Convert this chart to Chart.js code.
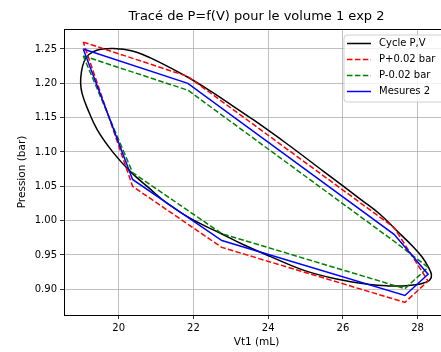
<!DOCTYPE html>
<html>
<head>
<meta charset="utf-8">
<script src="https://cdn.jsdelivr.net/npm/chart.js@4/dist/chart.umd.min.js"></script>
<style>
html,body{margin:0;padding:0;background:#fff;overflow:hidden;width:441px;height:352px;}
canvas{display:block;}
</style>
</head>
<body>
<canvas id="c" width="470" height="352"></canvas>
<script>
const titleText = "Tracé de P=f(V) pour le volume 1 exp 2";
const xLabel = "Vt1 (mL)";
const yLabel = "Pression (bar)";
const xTicks = [20, 22, 24, 26, 28];
const yTicks = [0.90, 0.95, 1.00, 1.05, 1.10, 1.15, 1.20, 1.25];
const seriesNames = ["Cycle P,V", "P+0.02 bar", "P-0.02 bar", "Mesures 2"];

const cycleV = [19.95, 20.2, 20.5, 20.85, 21.4, 21.91, 22.5, 23.0, 23.6, 24.5, 25.5, 26.5, 27.0, 27.43, 27.88, 28.12, 28.28, 28.37, 28.33, 28.2, 28.0, 27.61, 27.2, 26.72, 25.83, 24.94, 24.05, 23.3, 22.71, 21.99, 21.3, 20.8, 20.32, 19.87, 19.43, 19.15, 19.02, 18.98, 19.0, 19.07, 19.2, 19.43, 19.7, 19.95];
const cycleP = [1.2505, 1.249, 1.245, 1.237, 1.222, 1.207, 1.187, 1.169, 1.147, 1.112, 1.071, 1.030, 1.009, 0.986, 0.962, 0.947, 0.933, 0.921, 0.914, 0.910, 0.907, 0.905, 0.905, 0.907, 0.915, 0.928, 0.948, 0.966, 0.982, 1.001, 1.025, 1.048, 1.071, 1.098, 1.132, 1.165, 1.185, 1.200, 1.216, 1.2315, 1.242, 1.2485, 1.2505, 1.2505];

const mesV = [19.05, 21.85, 27.37, 28.28, 27.66, 22.76, 20.37, 19.05];
const mesP = [1.250, 1.200, 0.980, 0.922, 0.891, 0.971, 1.060, 1.250];
const plusP = [1.260, 1.210, 0.990, 0.912, 0.881, 0.961, 1.050, 1.260];
const minusP = [1.240, 1.190, 0.970, 0.932, 0.901, 0.981, 1.070, 1.240];

const xMin = 18.535, xMax = 28.84;
const yMin = 0.8626, yMax = 1.2791;

const pts = (xs, ys) => xs.map((x, i) => ({x: x, y: ys[i]}));
const FONT = "'DejaVu Sans', sans-serif";

const colors = ['#000000', '#ff0000', '#008000', '#0000ff'];
const dashes = [[], [5.5, 2.4], [5.5, 2.4], []];

const extras = {
  id: 'extras',
  afterDraw(chart) {
    const {ctx, chartArea: a} = chart;
    ctx.save();
    ctx.strokeStyle = '#000';
    ctx.lineWidth = 1;
    ctx.strokeRect(Math.round(a.left) + 0.5, Math.round(a.top) + 0.5, Math.round(a.right - a.left), Math.round(a.bottom - a.top));
    ctx.fillStyle = '#000';
    ctx.font = '13px ' + FONT;
    ctx.textAlign = 'center';
    ctx.textBaseline = 'middle';
    ctx.fillText(titleText, (a.left + a.right) / 2, 17);
    const bx = 344, by = 35, bw = 102, bh = 67, r = 3;
    ctx.beginPath();
    ctx.moveTo(bx + r, by);
    ctx.lineTo(bx + bw - r, by);
    ctx.quadraticCurveTo(bx + bw, by, bx + bw, by + r);
    ctx.lineTo(bx + bw, by + bh - r);
    ctx.quadraticCurveTo(bx + bw, by + bh, bx + bw - r, by + bh);
    ctx.lineTo(bx + r, by + bh);
    ctx.quadraticCurveTo(bx, by + bh, bx, by + bh - r);
    ctx.lineTo(bx, by + r);
    ctx.quadraticCurveTo(bx, by, bx + r, by);
    ctx.closePath();
    ctx.fillStyle = 'rgba(255,255,255,0.8)';
    ctx.fill();
    ctx.strokeStyle = '#d0d0d0';
    ctx.lineWidth = 1;
    ctx.stroke();
    ctx.font = '10px ' + FONT;
    ctx.textAlign = 'left';
    seriesNames.forEach((n, i) => {
      const yy = 43.5 + i * 16;
      ctx.beginPath();
      ctx.setLineDash(dashes[i]);
      ctx.strokeStyle = colors[i];
      ctx.lineWidth = 1.5;
      ctx.moveTo(347, yy);
      ctx.lineTo(371, yy);
      ctx.stroke();
      ctx.setLineDash([]);
      ctx.fillStyle = '#000';
      ctx.fillText(n, 379, yy);
    });
    ctx.restore();
  }
};

const ds = (label, data, i, order, tension) => ({
  label: label, data: data, showLine: true, borderColor: colors[i], backgroundColor: colors[i],
  borderWidth: 1.5, borderDash: dashes[i], pointRadius: 0, tension: tension, order: order, fill: false
});

new Chart(document.getElementById('c'), {
  type: 'scatter',
  data: {
    datasets: [
      ds(seriesNames[0], pts(cycleV, cycleP), 0, 3, 0.4),
      ds(seriesNames[1], pts(mesV, plusP), 1, 2, 0),
      ds(seriesNames[2], pts(mesV, minusP), 2, 1, 0),
      ds(seriesNames[3], pts(mesV, mesP), 3, 0, 0)
    ]
  },
  plugins: [extras],
  options: {
    responsive: false,
    animation: false,
    layout: {padding: {top: 29, right: 21, left: 0, bottom: 0}},
    plugins: {legend: {display: false}, title: {display: false}, tooltip: {enabled: false}},
    scales: {
      x: {
        type: 'linear', min: xMin, max: xMax,
        afterBuildTicks: ax => { ax.ticks = xTicks.map(v => ({value: v})); },
        afterFit: ax => { ax.height = 37; },
        grid: {color: '#b0b0b0', lineWidth: 0.8, tickColor: '#000', tickLength: 4, drawTicks: true},
        border: {display: true, color: '#000', width: 1},
        ticks: {color: '#000', font: {family: FONT, size: 10}, padding: 3, maxRotation: 0,
                callback: v => String(v)},
        title: {display: true, text: xLabel, color: '#000', font: {family: FONT, size: 10.5}, padding: {top: 0, bottom: 3}}
      },
      y: {
        type: 'linear', min: yMin, max: yMax,
        afterBuildTicks: ax => { ax.ticks = yTicks.map(v => ({value: v})); },
        afterFit: ax => { ax.width = 64; },
        grid: {color: '#b0b0b0', lineWidth: 0.8, tickColor: '#000', tickLength: 4, drawTicks: true},
        border: {display: true, color: '#000', width: 1},
        ticks: {color: '#000', font: {family: FONT, size: 10}, padding: 3,
                callback: v => Number(v).toFixed(2)},
        title: {display: true, text: yLabel, color: '#000', font: {family: FONT, size: 10.5}, padding: {top: 15.5, bottom: 0}}
      }
    }
  }
});
</script>
</body>
</html>
